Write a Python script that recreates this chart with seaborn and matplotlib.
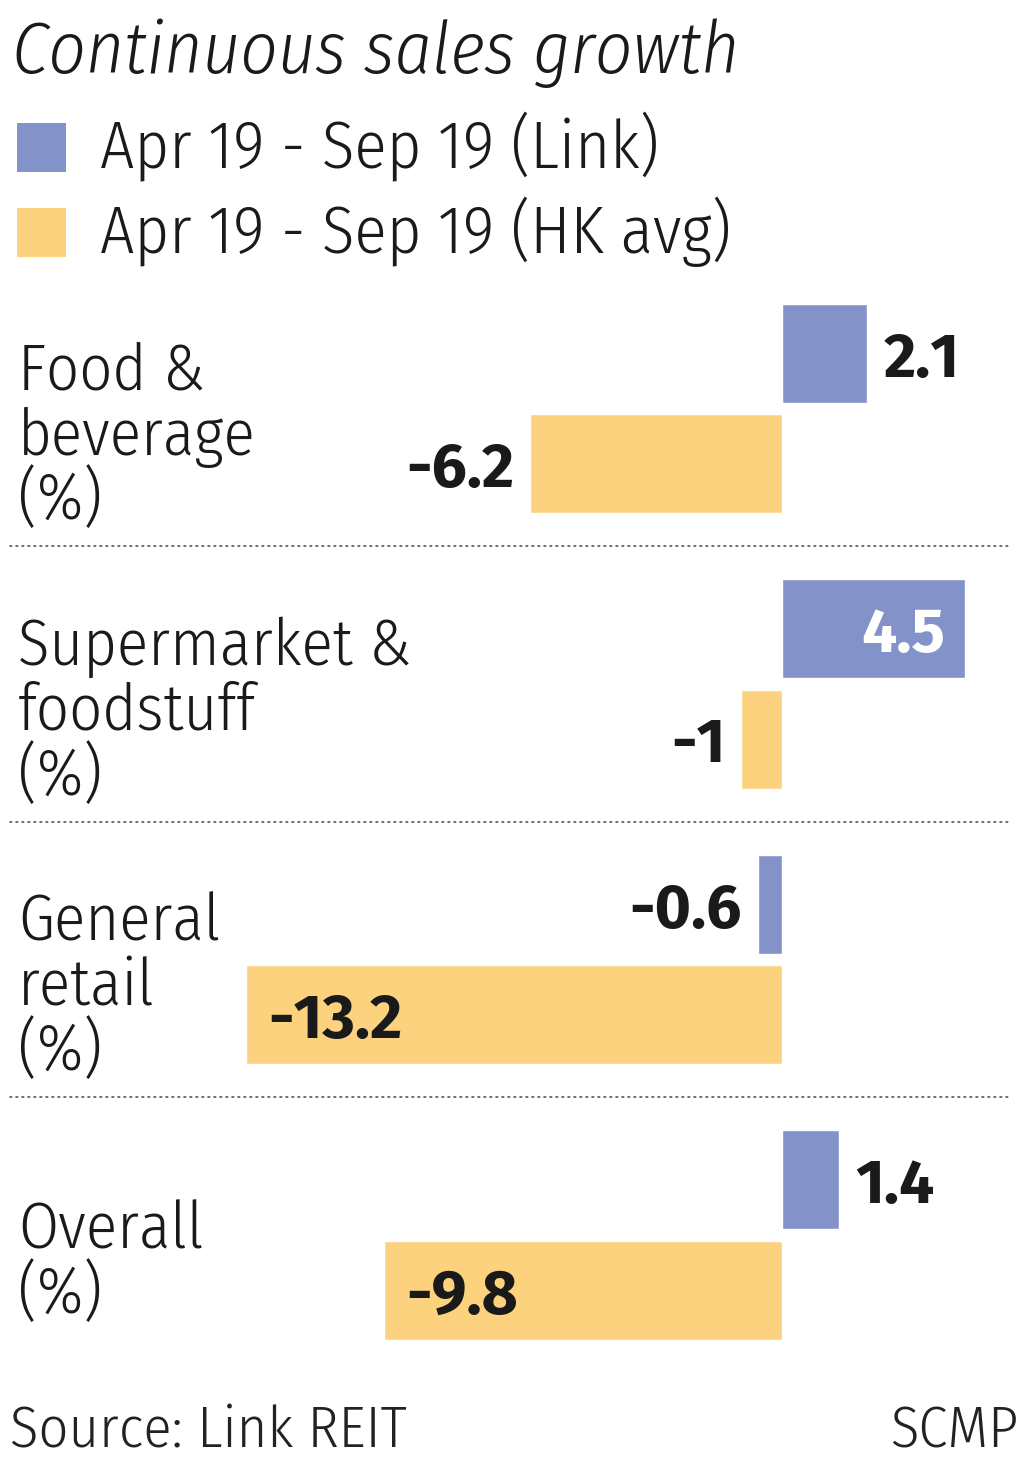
import matplotlib
matplotlib.use("Agg")
import matplotlib.pyplot as plt
from matplotlib import font_manager
from matplotlib.patches import Rectangle
import seaborn as sns
import pandas as pd

# data
categories = ["Food &\nbeverage\n(%)", "Supermarket &\nfoodstuff\n(%)",
              "General\nretail\n(%)", "Overall\n(%)"]
periods = ["Apr 19 - Sep 19 (Link)", "Apr 19 - Sep 19 (HK avg)"]
link_values = [2.1, 4.5, -0.6, 1.4]
hk_values = [-6.2, -1.0, -13.2, -9.8]
value_text = {2.1: "2.1", 4.5: "4.5", -0.6: "-0.6", 1.4: "1.4",
              -6.2: "-6.2", -1.0: "-1", -13.2: "-13.2", -9.8: "-9.8"}

BLUE = "#8393ca"
YELLOW = "#fdd27f"
TEXT = "#1a1a1a"

sns.set_theme(style="white")
names = {f.name for f in font_manager.fontManager.ttflist}


def pick(prefs):
    return next((f for f in prefs if f in names), "DejaVu Sans")


NUM_FONT = pick(["Fira Sans", "Open Sans", "Liberation Sans"])
LABEL_FONT = pick(["Fira Sans Condensed", "Liberation Sans Narrow", NUM_FONT])
plt.rcParams["font.family"] = [LABEL_FONT, "DejaVu Sans"]
num_family = [NUM_FONT, "DejaVu Sans"]

df = pd.DataFrame({
    "category": categories * 2,
    "value": link_values + hk_values,
    "period": [periods[0]] * 4 + [periods[1]] * 4,
})

W, H = 1024, 1466
fig = plt.figure(figsize=(W / 100, H / 100), dpi=100)

# axes spans full width; zero line sits at x=782 px, 40.6 px per unit
px_per_unit = 40.6
zero_px = 782
pitch = 275.5
top_px = 408.5 - pitch / 2
ax = fig.add_axes([0, 1 - (top_px + 4 * pitch) / H, 1, 4 * pitch / H])

sns.barplot(data=df, y="category", x="value", hue="period", orient="h",
            palette=[BLUE, YELLOW], width=0.8, gap=0.1, legend=False,
            saturation=1, ax=ax)

ax.set_xlim(-zero_px / px_per_unit, (W - zero_px) / px_per_unit)
ax.set_ylim(3.5, -0.5)
ax.set_axis_off()

# value labels
inside = {4.5: "white", -13.2: TEXT, -9.8: TEXT}
pad = 16 / px_per_unit
for cont, vals in zip(ax.containers, [link_values, hk_values]):
    for bar, v in zip(cont, vals):
        yc = bar.get_y() + bar.get_height() / 2
        if v in inside:
            x = v - pad * 1.2 if v > 0 else v + pad * 1.4
            ha = "right" if v > 0 else "left"
            color = inside[v]
        else:
            x = v + pad if v > 0 else v - pad
            ha = "left" if v > 0 else "right"
            color = TEXT
        ax.text(x, yc, value_text[v], ha=ha, va="center_baseline",
                fontsize=45, fontweight="bold", color=color,
                family=num_family)

# category labels, one line at a time (65 px line pitch)
line_step = 65 / pitch
trans = ax.get_yaxis_transform()
for i, cat in enumerate(categories):
    lines = cat.split("\n")
    first = i + 46 / pitch - (len(lines) - 1) * line_step / 2
    for k, line in enumerate(lines):
        ax.text(18 / W, first + k * line_step, line, transform=trans,
                ha="left", va="baseline", fontsize=46.5, fontweight=300,
                color=TEXT)

# dotted separators
for i in range(len(categories) - 1):
    ax.axhline(i + 0.5, xmin=10 / W, xmax=1012 / W, color="#555555",
               lw=1.2, ls=(0, (1, 2.6)), dash_capstyle="round")


def fx(x):
    return x / W


def fy(y):
    return 1 - y / H


# title, legend, footer
fig.text(fx(12), fy(73), "Continuous sales growth", fontsize=52.5,
         style="italic", fontweight=300, color=TEXT, va="baseline")
for j, (lab, col) in enumerate(zip(periods, [BLUE, YELLOW])):
    y0 = 123 + 85 * j
    fig.add_artist(Rectangle((fx(17), fy(y0 + 49)), 49 / W, 49 / H,
                             transform=fig.transFigure, color=col, lw=0))
    fig.text(fx(100), fy(y0 + 45), lab, fontsize=48, fontweight=300,
             color=TEXT, va="baseline")

fig.text(fx(10), fy(1447), "Source: Link REIT", fontsize=42, fontweight=300,
         color="#222222", va="baseline")
fig.text(fx(1018), fy(1447), "SCMP", fontsize=42, fontweight=300,
         color="#222222", va="baseline", ha="right")

fig.savefig("out.png", dpi=100)
